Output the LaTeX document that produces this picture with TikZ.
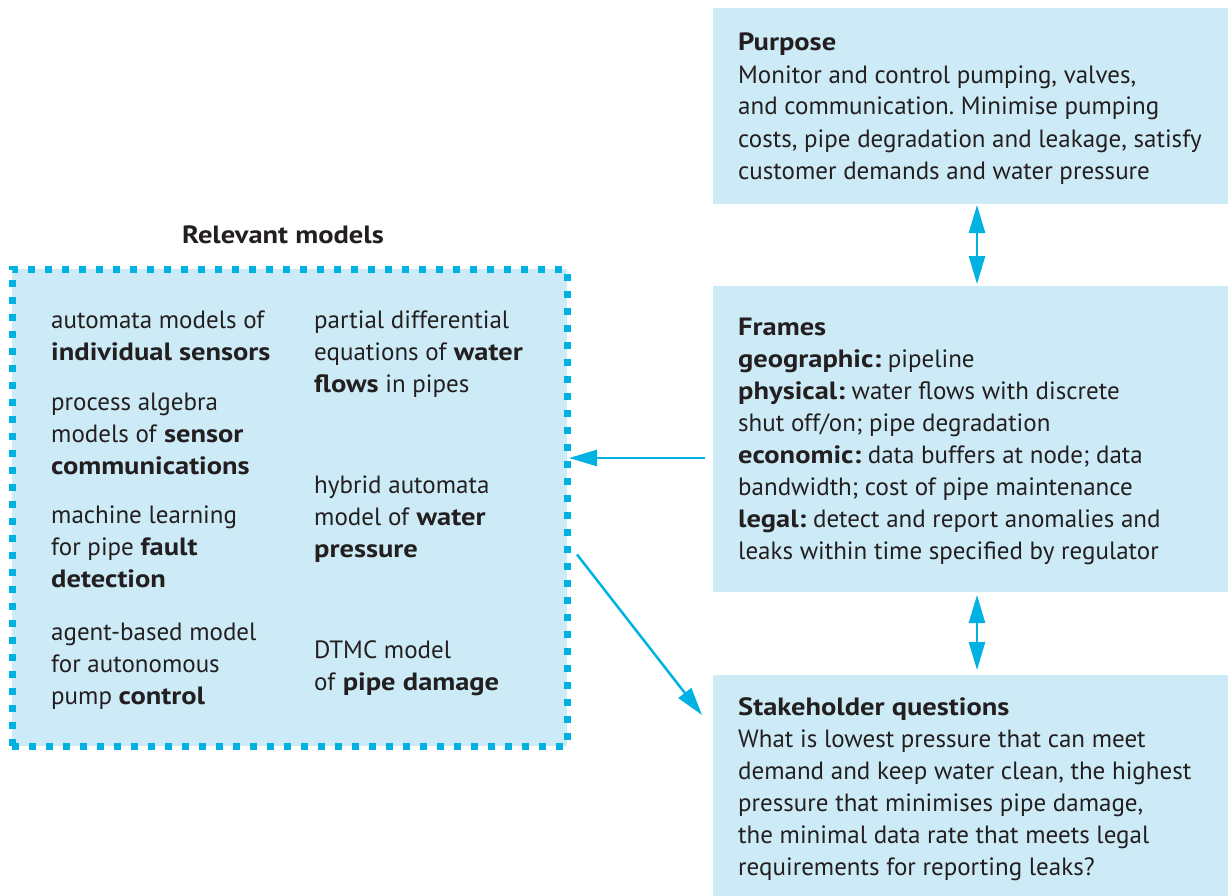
\documentclass[tikz,border=0pt]{standalone}
\usepackage{fontspec}
\setmainfont{PT Sans}[BoldFeatures={FakeStretch=1.14}]
\usepackage{xcolor}
\usetikzlibrary{arrows.meta}
\definecolor{blaucel}{HTML}{CDEBF6}
\definecolor{blauf}{HTML}{00B2E2}
\definecolor{tinta}{HTML}{231F20}
\frenchspacing

\begin{document}
\begin{tikzpicture}[x=1pt,y=-1pt,
	caixa/.style={fill=blaucel, draw=none, anchor=north west, inner sep=0pt, outer sep=0pt},
	lletra/.style={anchor=base west, align=left, inner sep=0pt, text=tinta, font=\fontsize{25}{32}\selectfont},
	fletxa/.style={draw=blauf, line width=2.5pt, -{Triangle[length=28pt,width=16pt]}},
	doble/.style={fletxa, {Triangle[length=28pt,width=16pt]}-{Triangle[length=28pt,width=16pt]}}]
	\useasboundingbox (0,0) rectangle (1228,896);
	% Caixes de la dreta
	\node [caixa, minimum width=515, minimum height=196] (purpose) at (713,8) {};
	\node [caixa, minimum width=515, minimum height=306] (frames) at (713,286) {};
	\node [caixa, minimum width=515, minimum height=221] (stake) at (713,675) {};
	% Caixa de models:
	\node [caixa, draw=blauf, line width=7pt, dash pattern=on 7pt off 10pt, minimum width=555, minimum height=477] (models) at (12,269) {};
	\node [lletra, anchor=base, font=\fontsize{25}{32}\selectfont\bfseries] (titol) at (283,243) {Relevant models};
	% Textos (punt = línia de base de l'última línia)
	\node [lletra] (purpose-t) at (738,179) {\textbf{Purpose}\\Monitor and control pumping, valves,\\and communication. Minimise pumping\\costs, pipe degradation and leakage, satisfy\\customer demands and water pressure};
	\node [lletra] (frames-t) at (738,559) {\textbf{Frames}\\\textbf{geographic:} pipeline\\\textbf{physical:} water flows with discrete\\shut off/on; pipe degradation\\\textbf{economic:} data buffers at node; data\\bandwidth; cost of pipe maintenance\\\textbf{legal:} detect and report anomalies and\\leaks within time specified by regulator};
	\node [lletra] (stake-t) at (738,875) {\textbf{Stakeholder questions}\\What is lowest pressure that can meet\\demand and keep water clean, the highest\\pressure that minimises pipe damage,\\the minimal data rate that meets legal\\requirements for reporting leaks?};
	\node [lletra] (sensors) at (51,360) {automata models of\\\textbf{individual sensors}};
	\node [lletra] (comms) at (51,474) {process algebra\\models of \textbf{sensor}\\\textbf{communications}};
	\node [lletra] (fault) at (51,587) {machine learning\\for pipe \textbf{fault}\\\textbf{detection}};
	\node [lletra] (control) at (51,704) {agent-based model\\for autonomous\\pump \textbf{control}};
	\node [lletra] (flows) at (314,392) {partial differential\\equations of \textbf{water}\\\textbf{flows} in pipes};
	\node [lletra] (pressure) at (314,557) {hybrid automata\\model of \textbf{water}\\\textbf{pressure}};
	\node [lletra] (damage) at (314,690) {DTMC model\\of \textbf{pipe damage}};
	% Fletxes
	\draw [doble] ([xshift=6.5pt,yshift=-1pt]purpose.south) -- ([xshift=6.5pt,yshift=2pt]frames.north);
	\draw [doble] ([xshift=6.5pt,yshift=-3pt]frames.south) -- ([xshift=6.5pt,yshift=5pt]stake.north);
	\draw [fletxa, shorten >=10pt] ([xshift=-8pt,yshift=-19pt]frames.west) -- ([xshift=-8pt,yshift=-19pt]frames.west -| models.east);
	\draw [fletxa] ([xshift=10pt,yshift=-47pt]models.east) -- ([xshift=-11pt,yshift=-40pt]stake.north west);
\end{tikzpicture}
\end{document}
